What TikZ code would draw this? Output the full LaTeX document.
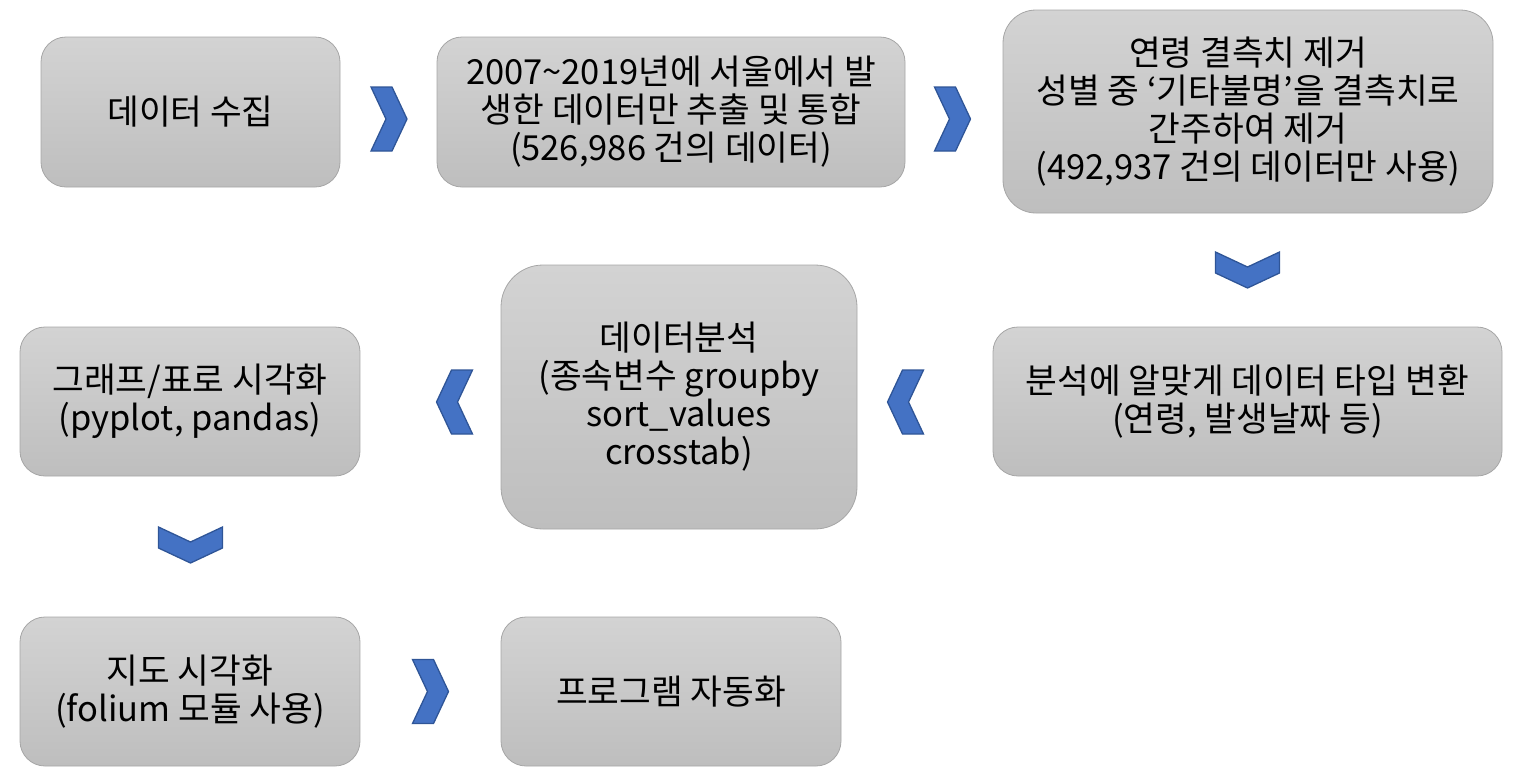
\documentclass[tikz,border=0pt]{standalone}
\usepackage{fontspec}
\setmainfont{Noto Sans CJK KR}
\definecolor{boxtop}{HTML}{D3D3D3}
\definecolor{boxbot}{HTML}{BEBEBE}
\definecolor{boxline}{HTML}{A6A6A6}
\definecolor{chevfill}{HTML}{4472C4}
\definecolor{chevline}{HTML}{2F5597}
\tikzset{
  procbox/.style={draw=boxline, line width=0.8pt, top color=boxtop, bottom color=boxbot,
    align=center, inner sep=0pt, font=\fontsize{34.5}{38}\selectfont, text=black},
  chev/.pic={
    \draw[fill=chevfill, draw=chevline, line width=1.3pt, line join=miter]
      (-18,-32) -- (3,-32) -- (18,0) -- (3,32) -- (-18,32) -- (-3,0) -- cycle;
  }
}
\begin{document}
\begin{tikzpicture}[x=1pt,y=-1pt]
\useasboundingbox (0,0) rectangle (1520,780);
\node[procbox, rounded corners=25pt, minimum width=299pt, minimum height=150pt] (collect) at (190.5,112) {데이터 수집};
\node[procbox, rounded corners=25pt, minimum width=468pt, minimum height=150pt] (extract) at (671,112) {2007\textasciitilde2019년에 서울에서 발\\생한 데이터만 추출 및 통합\\(526,986 건의 데이터)};
\node[procbox, rounded corners=33pt, minimum width=490pt, minimum height=203pt] (clean) at (1248,111.5) {연령 결측치 제거\\성별 중 ‘기타불명’을 결측치로\\간주하여 제거\\(492,937 건의 데이터만 사용)};
\node[procbox, rounded corners=25pt, minimum width=509pt, minimum height=149pt] (convert) at (1247.5,401.5) {분석에 알맞게 데이터 타입 변환\\(연령, 발생날짜 등)};
\node[procbox, rounded corners=42pt, minimum width=356pt, minimum height=264pt] (analysis) at (679,397) {데이터분석\\(종속변수 groupby\\sort\_values\\crosstab)};
\node[procbox, rounded corners=25pt, minimum width=340pt, minimum height=149pt] (graph) at (190,401.5) {그래프/표로 시각화\\(pyplot, pandas)};
\node[procbox, rounded corners=25pt, minimum width=340pt, minimum height=149pt] (map) at (190,691.5) {지도 시각화\\(folium 모듈 사용)};
\node[procbox, rounded corners=25pt, minimum width=340pt, minimum height=149pt] (auto) at (671,691.5) {프로그램 자동화};
\pic at (389,119) {chev};
\pic at (952.5,119) {chev};
\pic[rotate=-90] at (1247.5,270) {chev};
\pic[rotate=180] at (905.5,402) {chev};
\pic[rotate=180] at (454.5,402) {chev};
\pic[rotate=-90] at (190.5,545) {chev};
\pic at (430.5,691.5) {chev};
\end{tikzpicture}
\end{document}
